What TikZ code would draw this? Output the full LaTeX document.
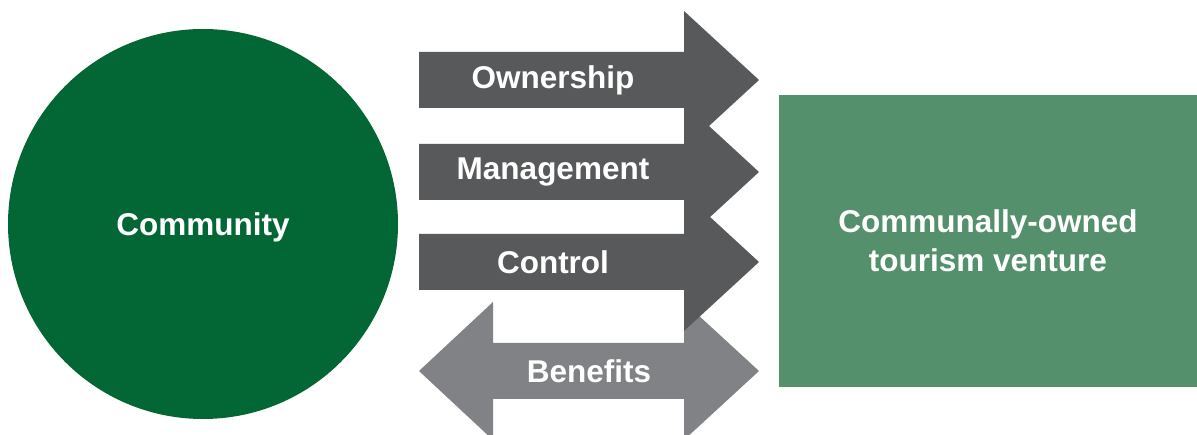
\documentclass[tikz,border=0pt]{standalone}
\usepackage{fontspec}
\setmainfont{Liberation Sans}
\usetikzlibrary{positioning}
\definecolor{commgreen}{HTML}{036735}
\definecolor{ventgreen}{HTML}{54906C}
\definecolor{darkgrey}{HTML}{58595B}
\definecolor{lightgrey}{HTML}{808285}

\begin{document}
\begin{tikzpicture}[x=1pt,y=-1pt,
   lbl/.style={text=white,font=\bfseries\fontsize{31.5}{39}\selectfont,align=center}]
   \useasboundingbox (0,0) rectangle (1197,435);
   \node[circle,fill=commgreen,minimum size=390pt,lbl,text depth=0pt] (community) at (203,224) {Community};
   \node[rectangle,fill=ventgreen,minimum width=418pt,minimum height=292pt,lbl]
      (venture) at (988,241) {Communally-owned\\tourism venture};
   % two way arrow behind the others
   \fill[lightgrey] (419,371) -- (493,302) -- (493,343) -- (684,343) -- (684,302)
      -- (759,371) -- (684,440) -- (684,399) -- (493,399) -- (493,440) -- cycle;
   \node[lbl] (benefits) at (589,371) {Benefits};
   \foreach \c/\t in {80/Ownership,172/Management,262/Control}{
      \fill[darkgrey] (419,\c-28) -- (684,\c-28) -- (684,\c-69) -- (759,\c)
         -- (684,\c+69) -- (684,\c+28) -- (419,\c+28) -- cycle;
      \node[lbl] (\t) at (553,\c) {\t};
   }
\end{tikzpicture}
\end{document}
